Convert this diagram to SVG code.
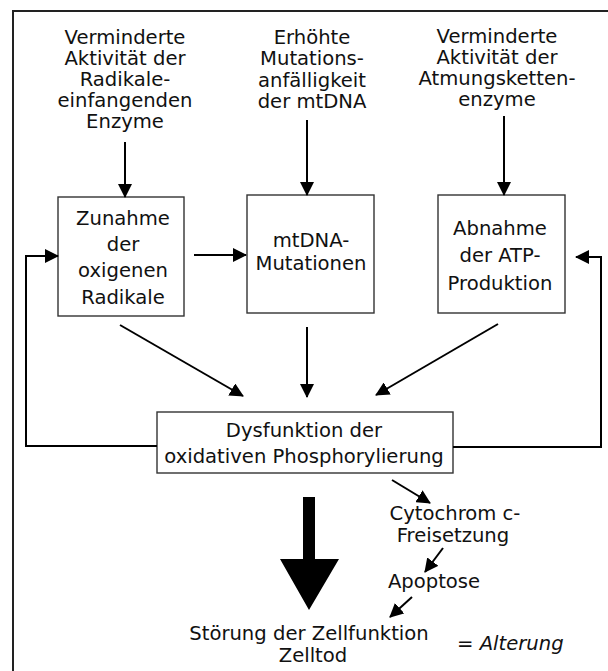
<svg xmlns="http://www.w3.org/2000/svg" width="608" height="671" viewBox="0 0 608 671">
<style>
text{font-family:"DejaVu Sans","Liberation Sans",sans-serif;font-size:19.6px;fill:#111;text-anchor:middle}
.box{fill:#fff;stroke:#333;stroke-width:1.4}
.c{fill:none;stroke:#000;stroke-width:2;marker-end:url(#ah)}
.it{font-style:italic}
</style>
<defs>
<marker id="ah" viewBox="0 0 14 14" markerUnits="userSpaceOnUse" markerWidth="14" markerHeight="14" refX="13" refY="7" orient="auto">
<path d="M0,0 L14,7 L0,14 z" fill="#000"/>
</marker>
</defs>
<rect width="608" height="671" fill="#fff"/>
<path d="M13,671 V11 H608" fill="none" stroke="#222" stroke-width="2"/>

<g id="src1"><text x="125" y="44">Verminderte</text><text x="125" y="65">Aktivität der</text><text x="125" y="86">Radikale-</text><text x="125" y="107">einfangenden</text><text x="125" y="128">Enzyme</text></g>
<g id="src2"><text x="312" y="44">Erhöhte</text><text x="312" y="65">Mutations-</text><text x="312" y="87">anfälligkeit</text><text x="312" y="108">der mtDNA</text></g>
<g id="src3"><text x="497" y="43">Verminderte</text><text x="497" y="64">Aktivität der</text><text x="497" y="85">Atmungsketten-</text><text x="497" y="106">enzyme</text></g>

<g id="box1"><rect class="box" x="58" y="197" width="126" height="119"/><text x="123" y="225">Zunahme</text><text x="123" y="251">der</text><text x="123" y="277">oxigenen</text><text x="123" y="304">Radikale</text></g>
<g id="box2"><rect class="box" x="247" y="195" width="127" height="118"/><text x="311" y="247">mtDNA-</text><text x="311" y="270">Mutationen</text></g>
<g id="box3"><rect class="box" x="438" y="195" width="127" height="118"/><text x="500" y="235">Abnahme</text><text x="500" y="262">der ATP-</text><text x="500" y="290">Produktion</text></g>
<g id="box4"><rect class="box" x="157" y="412" width="296" height="61"/><text x="304" y="437">Dysfunktion der</text><text x="304" y="463">oxidativen Phosphorylierung</text></g>

<g id="cyto"><text x="455" y="520">Cytochrom c-</text><text x="453" y="542">Freisetzung</text></g>
<g id="apo"><text x="434" y="588">Apoptose</text></g>
<g id="result"><text x="309" y="640">Störung der Zellfunktion</text><text x="313" y="662">Zelltod</text></g>
<g id="alt"><text x="457" y="650" style="text-anchor:start">= <tspan class="it">Alterung</tspan></text></g>

<g id="connectors">
<path class="c" d="M125,142 V197"/>
<path class="c" d="M307,120 V195"/>
<path class="c" d="M504,116 V195"/>
<path class="c" d="M194,255 H246"/>
<path class="c" d="M120,325 L243,396"/>
<path class="c" d="M307,327 V397"/>
<path class="c" d="M498,324 L376,395"/>
<path class="c" d="M157,446 H26 V256 H58"/>
<path class="c" d="M453,447 H601 V257 H576"/>
<path class="c" d="M392,480 L430,503"/>
<path class="c" d="M443,548 L425,572"/>
<path class="c" d="M412,597 L390,617"/>
<polygon points="303,497 315,497 315,559 339,559 309,610 280,559 303,559" fill="#000"/>
</g>
</svg>
